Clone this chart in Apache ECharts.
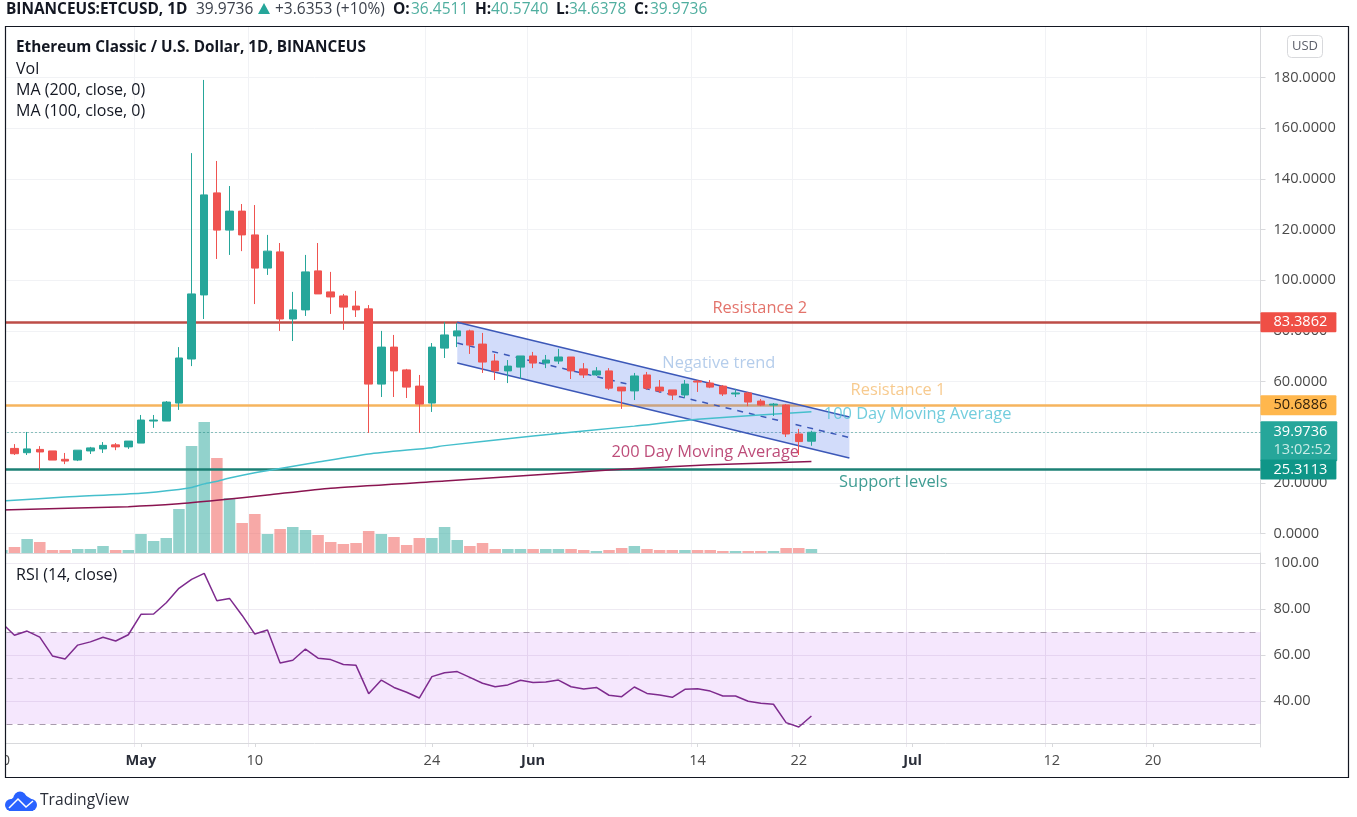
<!DOCTYPE html>
<html><head><meta charset="utf-8">
<style>html,body{margin:0;padding:0;background:#fff}#c{width:1357px;height:817px}</style>
<script src="https://cdn.jsdelivr.net/npm/echarts@6/dist/echarts.min.js"></script>
</head><body><div id="c"></div>
<script>
const FONT = '"Open Sans", sans-serif';
const UP = '#26a69a', DOWN = '#ef5350';

// Days shown on the time axis, Apr 20 to Jul 28
const months = [['Apr', 20, 30], ['May', 1, 31], ['Jun', 1, 30], ['Jul', 1, 28]];
const categories = [];
months.forEach(([m, a, b]) => { for (let d = a; d <= b; d++) categories.push(m + ' ' + d); });

const timeTickLabels = {'Apr 20':'20','May 1':'May','May 10':'10','May 24':'24','Jun 1':'Jun','Jun 14':'14','Jun 22':'22','Jul 1':'Jul','Jul 12':'12','Jul 20':'20'};
const boldTimeLabels = ['May','Jun','Jul'];

// [open, close, low, high], one row per day from Apr 20
const candleValues = [
[32.6,33.8,32,34],[33.6,31.5,31,35.3],[31.9,33.4,31,40.1],[33.2,32.2,25.1,34.5],[32.6,29,29,32.6],
[29.3,28.6,27.4,31.8],[29,32.9,28.6,32.9],[32.6,33.8,31.4,34.2],[33.4,34.8,31.8,36.1],[35,34.2,32.9,35.7],
[34.2,36.5,33.4,36.5],[35.7,44.8,35.7,46.8],[44.4,44.8,41.7,46.8],[44.4,51.9,44.4,52.3],[51.5,69.3,48.8,73.6],
[68.9,94.6,66.1,150.2],[94.2,133.7,84.7,179.1],[134.5,119.8,108.4,147.1],[119.8,127.3,110,137.2],[127.3,117.9,111.5,130.1],
[117.9,104.8,90.6,129.7],[104.8,111.5,102.1,117.9],[111.2,84.7,80,114.7],[84.7,88.3,76,95.4],[88.3,103.3,85.9,110],
[103.7,94.6,94.6,114.7],[95.4,93.4,86.7,103.3],[93.8,89.4,80.4,94.6],[89.8,88.3,85.5,95.8],[88.7,59,39.7,90.2],
[59,73.6,53.9,80],[73.6,64.2,53.9,78.4],[64.6,57.8,53.5,65],[58.2,51.1,39.7,62.6],[51.5,73.6,48,75.2],
[73.2,78.4,69.3,83.5],[78,80,73.6,83.1],[80,74.4,70.9,80.5],[74.8,67.7,63.4,79.2],[68.1,64.2,60.6,70.9],
[64.2,66.1,59.4,68.5],[65.7,70.1,61,70.1],[70.1,67.3,65.3,71.7],[67.3,68.5,65.3,70.5],[68.1,69.7,66.9,72.9],
[69.7,64.2,61,69.7],[65,62.6,61.4,67.3],[62.6,64.2,62.2,65.7],[64.2,57.4,56.7,65.3],[57.8,56.3,49.2,57.8],
[56.3,62.2,52.7,63.4],[62.6,57.4,56.7,63.8],[57.8,56.3,55.5,60.6],[56.7,54.7,52.7,56.7],[54.7,59,53.5,60.6],
[60.2,59.8,55.9,60.6],[59.4,57.8,57.4,60.6],[58.2,55.1,54.3,58.6],[55.1,55.5,53.9,57.1],[55.5,51.9,50.3,55.9],
[52.3,50.7,50.3,53.1],[50.7,51.1,46.4,51.5],[50.7,39.3,38.1,51.1],[39.3,36.3,31,41.3],[36.4511,39.9736,34.6378,40.574]
];

// Relative volume, one per day from Apr 20
const volumeValues = [3,6,14,11,3,3,4,4,7,3,3,19,12,15,44,107,131,95,55,30,39,19,24,26,23,18,11,9,10,22,19,16,8,15,15,26,13,7,10,4,4,4,4,4,4,4,3,2,3,5,7,4,3,3,3,3,3,2,2,2,2,2,5,5,4];

// RSI, one per day from Apr 20
const rsiValues = [73.9,68.6,70.4,67.8,59.6,58.3,64.3,65.7,67.7,66.1,68.8,77.7,77.8,82.7,89,92.9,95.5,83.6,84.6,77.2,69.1,70.9,56.5,57.7,62.6,58.6,58,55.9,55.5,43.2,49.1,45.9,43.8,41.3,50.6,52.3,52.8,50.3,47.7,46.2,47,49,48,48.3,49.1,46.2,45.2,45.9,42.5,41.9,46.1,43.3,42.6,41.6,45.1,45.3,44.3,42.2,42.2,39.9,39,38.6,30.6,28.7,33.5];

const ma100Line = [['Apr 20',12.8],['Apr 25',14.4],['May 1',15.9],['May 4',17.4],['May 5',18.2],['May 6',19.6],['May 7',20.6],['May 8',21.9],['May 10',24],['May 12',25.7],['May 15',28.2],['May 19',31.4],['May 24',33.9],['May 25',34.7],['Jun 1',38.5],['Jun 9',42.4],['Jun 14',45.1],['Jun 23',48.1]];
const ma200Line = [['Apr 20',9.3],['Apr 30',10.6],['May 4',11.7],['May 7',13.1],['May 11',15.2],['May 16',17.9],['May 25',20.7],['Jun 7',25.1],['Jun 15',27.1],['Jun 23',28.4]];

// Drawn channel
const channelDays = ['May 26','Jun 26'];
const channelUpper = [83.4, 46];
const channelMiddle = [75.2, 37.9];
const channelLower = [67.3, 29.8];

const resistance2 = 83.3862, resistance1 = 50.6886, support = 25.3113, lastPrice = 39.9736;
const countdown = '13:02:52';

const priceTicks = {min: 0, max: 200, step: 20};
const rsiTicks = {min: 20, max: 104.35, step: 20};

// date, price, text, colour, nudge
const annotations = [
  ['Jun 19', 89.04, 'Resistance 2', '#dc5046', -1],
  ['Jun 16', 67.33, 'Negative trend', '#a2c0e6', -4],
  ['Jun 30', 56.67, 'Resistance 1', '#f5bd72', -2],
  ['Jul 1', 47.2, '100 Day Moving Average', '#4fc0d4', 5],
  ['Jun 15', 32.2, '200 Day Moving Average', '#ad1f58', -5],
  ['Jun 29', 20.3, 'Support levels', '#0f8578', 6]
];

// text, left edge, kind
const headerParts = [
  ['BINANCEUS:ETCUSD, 1D', 6, 'b'], ['39.9736', 196, 'n'], ['+3.6353 (+10%)', 275, 'n'],
  ['O:', 393, 'b'], ['36.4511', 411, 'v'], ['H:', 475, 'b'], ['40.5740', 491, 'v'],
  ['L:', 556, 'b'], ['34.6378', 569, 'v'], ['C:', 634, 'b'], ['39.9736', 650, 'v']
];
// text, centre height, bold
const legendLines = [
  ['Ethereum Classic / U.S. Dollar, 1D, BINANCEUS', 48, true],
  ['Vol', 69, false], ['MA (200, close, 0)', 90, false], ['MA (100, close, 0)', 111, false], ['RSI (14, close)', 575, false]
];

const timeAxisBase = {
  type: 'category', data: categories, boundaryGap: true,
  axisPointer: {show: false}
};
const isTick = (i, v) => v in timeTickLabels;
const grayLine = '#f1f2f5';
const AXF = 14.6;
const tagLabel = (txt, fg, bg) => ({show: true, position: 'end', distance: 0, formatter: txt, color: fg, fontSize: AXF, fontFamily: FONT, backgroundColor: bg, padding: [3, 9, 2, 13], borderRadius: 1});

const chart = echarts.init(document.getElementById('c'), null, {width: 1357, height: 817});
const headerEls = headerParts.map(([t, x, k]) => ({type: 'text', z: 92, silent: true, x: x, y: 10, style: {
  text: t, fontFamily: FONT, fontSize: k === 'b' && t.length > 2 ? 15.4 : 15.5, fontWeight: k === 'b' ? 'bold' : 'normal',
  fill: k === 'v' ? '#4fae9f' : (k === 'b' ? '#131722' : '#3a3f4a'), verticalAlign: 'middle', textVerticalAlign: 'middle'}}));
const legendEls = legendLines.map(([t, y, b]) => ({type: 'text', z: 92, silent: true, x: 16, y: y, style: {
  text: t, fontFamily: FONT, fontSize: b ? 15.3 : 16, fontWeight: b ? 'bold' : 'normal', fill: '#131722', verticalAlign: 'middle', textVerticalAlign: 'middle'}}));

chart.setOption({
  animation: false,
  backgroundColor: '#fff',
  textStyle: {fontFamily: FONT},
  grid: [
    {left: -4.5, right: 96.5, top: 27, height: 506.5, containLabel: false, outerBoundsMode: 'none'},
    {left: -4.5, right: 96.5, top: 27, height: 526, containLabel: false, outerBoundsMode: 'none'},
    {left: -4.5, right: 96.5, top: 553, height: 194, containLabel: false, outerBoundsMode: 'none'}
  ],
  xAxis: [
    Object.assign({}, timeAxisBase, {gridIndex: 0, show: false}),
    Object.assign({}, timeAxisBase, {gridIndex: 1, axisLabel: {show: false}, axisTick: {show: false},
      axisLine: {lineStyle: {color: '#d8d9dc', width: 1}},
      splitLine: {show: true, interval: isTick, lineStyle: {color: grayLine}}}),
    Object.assign({}, timeAxisBase, {gridIndex: 2, offset: -4,
      axisLine: {lineStyle: {color: '#d8d9dc', width: 1}},
      axisTick: {show: true, length: 4, interval: isTick, alignWithLabel: true, lineStyle: {color: '#d8d9dc'}},
      splitLine: {show: true, interval: isTick, lineStyle: {color: '#ece8f0'}},
      axisLabel: {interval: isTick, margin: 10, color: '#4a4a4a', fontSize: AXF, fontFamily: FONT, hideOverlap: false,
        formatter: v => { const t = timeTickLabels[v] || ''; return boldTimeLabels.includes(t) ? '{b|' + t + '}' : t; },
        rich: {b: {fontWeight: 'bold', color: '#2a2e39', fontSize: AXF, fontFamily: FONT}}}})
  ],
  yAxis: [
    {type: 'value', gridIndex: 0, position: 'right', min: priceTicks.min, max: priceTicks.max, interval: priceTicks.step,
      axisLine: {show: true, lineStyle: {color: '#d8d9dc'}},
      axisTick: {show: true, length: 5, lineStyle: {color: '#d8d9dc'}},
      splitLine: {show: true, showMaxLine: false, lineStyle: {color: grayLine}},
      axisLabel: {margin: 13, color: '#4a4a4a', fontSize: AXF, fontFamily: FONT, showMaxLabel: false, formatter: v => v.toFixed(4)}},
    {type: 'value', gridIndex: 1, show: false, min: 0, max: 526, splitLine: {show: false}},
    {type: 'value', gridIndex: 2, position: 'right', min: rsiTicks.min, max: rsiTicks.max, interval: rsiTicks.step,
      axisLine: {show: true, lineStyle: {color: '#d8d9dc'}},
      axisTick: {show: true, length: 5, lineStyle: {color: '#d8d9dc'}},
      splitLine: {show: true, showMinLine: false, showMaxLine: false, lineStyle: {color: '#eeeaf2'}},
      axisLabel: {margin: 13, color: '#4a4a4a', fontSize: AXF, fontFamily: FONT, showMinLabel: false, showMaxLabel: false, formatter: v => v.toFixed(2)}}
  ],
  series: [
    {name: 'Volume', type: 'bar', xAxisIndex: 1, yAxisIndex: 1, barWidth: 11.5, z: 1,
      data: volumeValues.map((v, i) => ({value: v, itemStyle: {color: candleValues[i][1] >= candleValues[i][0] ? 'rgba(38,166,154,0.5)' : 'rgba(239,83,80,0.5)'}}))},
    {name: 'Channel', type: 'custom', xAxisIndex: 0, yAxisIndex: 0, z: 3, silent: true, clip: true,
      data: [[channelDays[0], channelUpper[0], channelLower[0]], [channelDays[1], channelUpper[1], channelLower[1]]],
      encode: {x: 0, y: [1, 2]},
      renderItem: (params, api) => {
        if (params.dataIndex !== 0) return {type: 'group', children: []};
        const a = api.coord([categories.indexOf(channelDays[0]), channelUpper[0]]);
        const b = api.coord([categories.indexOf(channelDays[1]), channelUpper[1]]);
        const c = api.coord([categories.indexOf(channelDays[1]), channelLower[1]]);
        const d = api.coord([categories.indexOf(channelDays[0]), channelLower[0]]);
        return {type: 'polygon', shape: {points: [a, b, c, d]}, style: {fill: 'rgba(66,110,235,0.24)'}};
      }},
    {name: 'Channel top', type: 'line', xAxisIndex: 0, yAxisIndex: 0, symbol: 'none', z: 3, silent: true,
      data: channelDays.map((d, i) => [d, channelUpper[i]]), lineStyle: {color: '#3c58b8', width: 1.5}},
    {name: 'Channel mid', type: 'line', xAxisIndex: 0, yAxisIndex: 0, symbol: 'none', z: 3, silent: true,
      data: channelDays.map((d, i) => [d, channelMiddle[i]]), lineStyle: {color: '#3c58b8', width: 1.5, type: [6, 6]}},
    {name: 'Channel bottom', type: 'line', xAxisIndex: 0, yAxisIndex: 0, symbol: 'none', z: 3, silent: true,
      data: channelDays.map((d, i) => [d, channelLower[i]]), lineStyle: {color: '#3c58b8', width: 1.5}},
    {name: 'MA 100', type: 'line', xAxisIndex: 0, yAxisIndex: 0, symbol: 'none', z: 3, silent: true, smooth: 0.2,
      data: ma100Line, lineStyle: {color: '#45bfcc', width: 1.5}},
    {name: 'MA 200', type: 'line', xAxisIndex: 0, yAxisIndex: 0, symbol: 'none', z: 3, silent: true, smooth: 0.2,
      data: ma200Line, lineStyle: {color: '#8a1450', width: 1.5}},
    {name: 'ETCUSD', type: 'candlestick', xAxisIndex: 0, yAxisIndex: 0, z: 4, barWidth: 8,
      data: candleValues,
      itemStyle: {color: UP, color0: DOWN, borderColor: UP, borderColor0: DOWN, borderWidth: 1},
      markLine: {
        z: 2, silent: true, symbol: 'none', precision: 4, animation: false,
        data: [
          {yAxis: resistance2, lineStyle: {color: '#bd4d47', width: 2.5, type: 'solid'},
            label: tagLabel(resistance2.toFixed(4), '#fff', '#ef4f46')},
          {yAxis: resistance1, lineStyle: {color: '#f6b45e', width: 2.5, type: 'solid'},
            label: tagLabel(resistance1.toFixed(4), '#33220c', '#ffb74d')},
          {yAxis: lastPrice, lineStyle: {color: '#1f8a80', width: 1, type: [1, 3]},
            label: {show: true, position: 'end', distance: 0, offset: [0, 9], formatter: lastPrice.toFixed(4) + '\n{t|' + countdown + '}', color: '#fff', fontSize: AXF, lineHeight: 18, fontFamily: FONT, backgroundColor: '#26a69a', padding: [2, 6, 2, 13], borderRadius: 1,
              rich: {t: {color: '#c9ebe6', fontSize: AXF, lineHeight: 18, fontFamily: FONT}}}},
          {yAxis: support, lineStyle: {color: '#1c8075', width: 2.5, type: 'solid'},
            label: tagLabel(support.toFixed(4), '#fff', '#0f9688')}
        ]
      }},
    {name: 'Notes', type: 'scatter', xAxisIndex: 0, yAxisIndex: 0, z: 6, silent: true, symbolSize: 1,
      itemStyle: {color: 'rgba(0,0,0,0)'},
      data: annotations.map(a => ({value: [a[0], a[1]], label: {show: true, position: 'inside', formatter: a[2], color: a[3], fontSize: 16.4, fontFamily: FONT, offset: [a[4], 0]}}))},
    {name: 'RSI', type: 'line', xAxisIndex: 2, yAxisIndex: 2, symbol: 'none', z: 4, silent: true,
      data: rsiValues, lineStyle: {color: '#7e2b8e', width: 1.5},
      markArea: {silent: true, z: 1, itemStyle: {color: 'rgba(170,60,240,0.12)'}, data: [[{yAxis: 70}, {yAxis: 30}]]},
      markLine: {silent: true, z: 2, symbol: 'none', label: {show: false},
        data: [
          {yAxis: 70, lineStyle: {color: '#a79aac', type: [6, 5], width: 1}},
          {yAxis: 50, lineStyle: {color: '#cfc2d6', type: [6, 5], width: 1}},
          {yAxis: 30, lineStyle: {color: '#a79aac', type: [6, 5], width: 1}}
        ]}}
  ],
  graphic: {elements: [
    {type: 'rect', z: 90, silent: true, shape: {x: 0, y: 0, width: 5.5, height: 817}, style: {fill: '#fff'}},
    {type: 'rect', z: 91, silent: true, shape: {x: 5.5, y: 26.5, width: 1343, height: 751}, style: {fill: 'none', stroke: '#131722', lineWidth: 1.2}},
    ...headerEls,
    {type: 'polygon', z: 92, silent: true, shape: {points: [[264, 3], [270, 14], [258, 14]]}, style: {fill: '#26a69a'}},
    ...legendEls,
    {type: 'rect', z: 92, silent: true, shape: {x: 1287.5, y: 35.5, width: 35, height: 22, r: 4}, style: {fill: '#fff', stroke: '#d8d9dc', lineWidth: 1}},
    {type: 'text', z: 93, silent: true, x: 1305, y: 46, style: {text: 'USD', fontFamily: FONT, fontSize: 13, fill: '#5d606b', align: 'center', verticalAlign: 'middle', textAlign: 'center', textVerticalAlign: 'middle'}},
    {type: 'circle', z: 92, silent: true, shape: {cx: 11, cy: 805, r: 6}, style: {fill: '#2962ff'}},
    {type: 'circle', z: 92, silent: true, shape: {cx: 31, cy: 805, r: 6}, style: {fill: '#2962ff'}},
    {type: 'circle', z: 92, silent: true, shape: {cx: 20, cy: 798, r: 6.5}, style: {fill: '#2962ff'}},
    {type: 'polygon', z: 92, silent: true, shape: {points: [[8, 802], [20, 792], [33, 800], [33, 811], [9, 811]]}, style: {fill: '#2962ff'}},
    {type: 'polyline', z: 93, silent: true, shape: {points: [[9, 808], [18, 799], [26, 807], [33, 801]]}, style: {stroke: '#fff', fill: 'none', lineWidth: 1.5}},
    {type: 'text', z: 92, silent: true, x: 40, y: 801, style: {text: 'TradingView', fontFamily: FONT, fontSize: 15.6, fill: '#2a2e39', verticalAlign: 'middle', textVerticalAlign: 'middle'}}
  ]}
});
</script></body></html>
